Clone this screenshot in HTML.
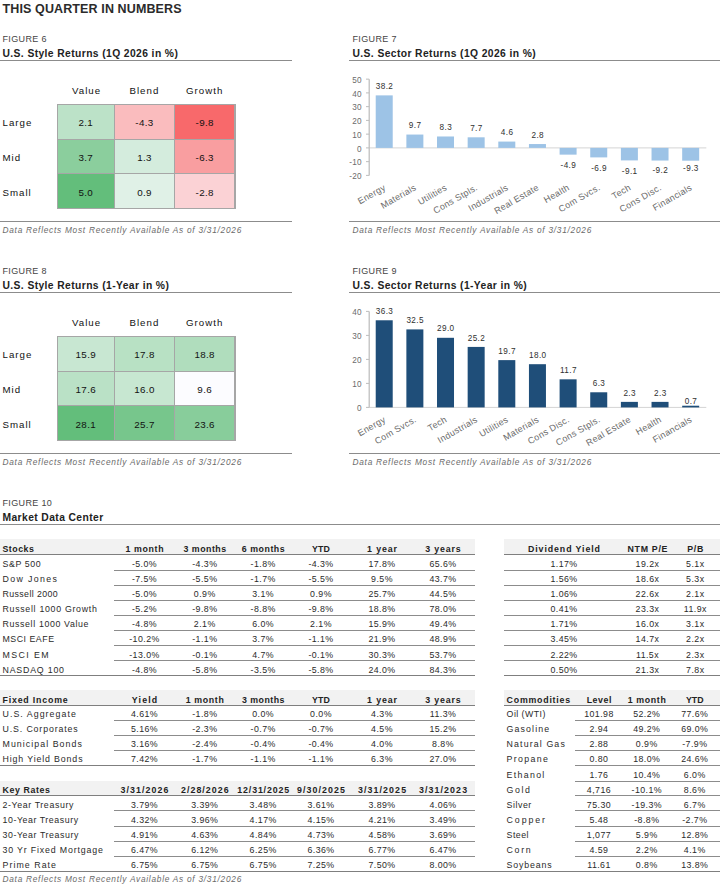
<!DOCTYPE html>
<html lang="en"><head><meta charset="utf-8"><title>This Quarter in Numbers</title>
<style>
html,body{margin:0;padding:0;background:#fff}
body{width:720px;height:887px;position:relative;overflow:hidden;font-family:"Liberation Sans",sans-serif;color:#222}
.t{position:absolute;white-space:nowrap;line-height:14px;height:14px}
.hl{position:absolute}
.h1{font-size:12.5px;font-weight:bold;color:#2b2b2b;letter-spacing:0.12px}
.fig{font-size:9px;color:#444;letter-spacing:0.35px}
.ttl{font-size:10.3px;font-weight:bold;color:#222;letter-spacing:0.4px}
.cg{font-size:9.7px;color:#111;letter-spacing:1.0px}
.cv{font-size:9.8px;color:#111;letter-spacing:0.35px}
.foot{font-size:8.3px;font-style:italic;color:#6a6a6a;letter-spacing:0.74px}
.td{font-size:8.8px;color:#2a2a2a;letter-spacing:0.6px}
.tn{font-size:8.8px;color:#2a2a2a;letter-spacing:0.45px}
.th{font-size:8.8px;font-weight:bold;color:#222;letter-spacing:0.5px}
.ax{font-size:8.2px;fill:#6b6b6b;letter-spacing:0.3px}
.dl{font-size:8.2px;fill:#303030;letter-spacing:0.4px}
svg{position:absolute;left:0;top:0}
svg text{font-family:"Liberation Sans",sans-serif}
</style></head><body>
<div class="t h1" style="left:2.50px;top:1.67px">THIS QUARTER IN NUMBERS</div>
<div class="t fig" style="left:2.50px;top:31.58px">FIGURE 6</div>
<div class="t ttl" style="left:2.50px;top:46.53px">U.S. Style Returns (1Q 2026 in %)</div>
<div class="hl" style="left:0.00px;width:292.00px;top:60.20px;height:1px;background:#8c8c8c"></div>
<div class="t cg" style="left:46.60px;width:80px;text-align:center;top:83.84px">Value</div>
<div class="t cg" style="left:104.40px;width:80px;text-align:center;top:83.84px">Blend</div>
<div class="t cg" style="left:164.70px;width:80px;text-align:center;top:83.84px">Growth</div>
<div class="t cg" style="left:2.50px;top:116.14px">Large</div>
<div class="t cg" style="left:2.50px;top:150.94px">Mid</div>
<div class="t cg" style="left:2.50px;top:185.74px">Small</div>
<div class="hl" style="left:56.50px;width:179.00px;top:103.50px;height:105.60px;background:#a6a6a6"></div>
<div class="hl" style="left:57.50px;width:56.60px;top:104.50px;height:34.00px;background:#bce2c8"></div>
<div class="t cv" style="left:45.80px;width:80px;text-align:center;top:116.10px">2.1</div>
<div class="hl" style="left:115.10px;width:58.80px;top:104.50px;height:34.00px;background:#fabcbe"></div>
<div class="t cv" style="left:104.50px;width:80px;text-align:center;top:116.10px">-4.3</div>
<div class="hl" style="left:174.90px;width:59.60px;top:104.50px;height:34.00px;background:#f8696b"></div>
<div class="t cv" style="left:164.70px;width:80px;text-align:center;top:116.10px">-9.8</div>
<div class="hl" style="left:57.50px;width:56.60px;top:139.50px;height:33.60px;background:#8bce9d"></div>
<div class="t cv" style="left:45.80px;width:80px;text-align:center;top:150.90px">3.7</div>
<div class="hl" style="left:115.10px;width:58.80px;top:139.50px;height:33.60px;background:#d4ecdd"></div>
<div class="t cv" style="left:104.50px;width:80px;text-align:center;top:150.90px">1.3</div>
<div class="hl" style="left:174.90px;width:59.60px;top:139.50px;height:33.60px;background:#f99ea0"></div>
<div class="t cv" style="left:164.70px;width:80px;text-align:center;top:150.90px">-6.3</div>
<div class="hl" style="left:57.50px;width:56.60px;top:174.10px;height:34.00px;background:#63be7b"></div>
<div class="t cv" style="left:45.80px;width:80px;text-align:center;top:185.70px">5.0</div>
<div class="hl" style="left:115.10px;width:58.80px;top:174.10px;height:34.00px;background:#e0f1e7"></div>
<div class="t cv" style="left:104.50px;width:80px;text-align:center;top:185.70px">0.9</div>
<div class="hl" style="left:174.90px;width:59.60px;top:174.10px;height:34.00px;background:#fbd2d5"></div>
<div class="t cv" style="left:164.70px;width:80px;text-align:center;top:185.70px">-2.8</div>
<div class="hl" style="left:0.00px;width:292.00px;top:221.20px;height:1px;background:#8c8c8c"></div>
<div class="t foot" style="left:2.50px;top:222.72px">Data Reflects Most Recently Available As of 3/31/2026</div>
<div class="t fig" style="left:2.50px;top:263.58px">FIGURE 8</div>
<div class="t ttl" style="left:2.50px;top:278.53px">U.S. Style Returns (1-Year in %)</div>
<div class="hl" style="left:0.00px;width:292.00px;top:292.20px;height:1px;background:#8c8c8c"></div>
<div class="t cg" style="left:46.60px;width:80px;text-align:center;top:315.84px">Value</div>
<div class="t cg" style="left:104.40px;width:80px;text-align:center;top:315.84px">Blend</div>
<div class="t cg" style="left:164.70px;width:80px;text-align:center;top:315.84px">Growth</div>
<div class="t cg" style="left:2.50px;top:348.14px">Large</div>
<div class="t cg" style="left:2.50px;top:382.94px">Mid</div>
<div class="t cg" style="left:2.50px;top:417.74px">Small</div>
<div class="hl" style="left:56.50px;width:179.00px;top:335.50px;height:105.60px;background:#a6a6a6"></div>
<div class="hl" style="left:57.50px;width:56.60px;top:336.50px;height:34.00px;background:#c8e7d2"></div>
<div class="t cv" style="left:45.80px;width:80px;text-align:center;top:348.10px">15.9</div>
<div class="hl" style="left:115.10px;width:58.80px;top:336.50px;height:34.00px;background:#b8e1c4"></div>
<div class="t cv" style="left:104.50px;width:80px;text-align:center;top:348.10px">17.8</div>
<div class="hl" style="left:174.90px;width:59.60px;top:336.50px;height:34.00px;background:#b0ddbd"></div>
<div class="t cv" style="left:164.70px;width:80px;text-align:center;top:348.10px">18.8</div>
<div class="hl" style="left:57.50px;width:56.60px;top:371.50px;height:33.60px;background:#bae1c6"></div>
<div class="t cv" style="left:45.80px;width:80px;text-align:center;top:382.90px">17.6</div>
<div class="hl" style="left:115.10px;width:58.80px;top:371.50px;height:33.60px;background:#c7e7d1"></div>
<div class="t cv" style="left:104.50px;width:80px;text-align:center;top:382.90px">16.0</div>
<div class="hl" style="left:174.90px;width:59.60px;top:371.50px;height:33.60px;background:#fcfcff"></div>
<div class="t cv" style="left:164.70px;width:80px;text-align:center;top:382.90px">9.6</div>
<div class="hl" style="left:57.50px;width:56.60px;top:406.10px;height:34.00px;background:#63be7b"></div>
<div class="t cv" style="left:45.80px;width:80px;text-align:center;top:417.70px">28.1</div>
<div class="hl" style="left:115.10px;width:58.80px;top:406.10px;height:34.00px;background:#77c68c"></div>
<div class="t cv" style="left:104.50px;width:80px;text-align:center;top:417.70px">25.7</div>
<div class="hl" style="left:174.90px;width:59.60px;top:406.10px;height:34.00px;background:#88cd9b"></div>
<div class="t cv" style="left:164.70px;width:80px;text-align:center;top:417.70px">23.6</div>
<div class="hl" style="left:0.00px;width:292.00px;top:453.20px;height:1px;background:#8c8c8c"></div>
<div class="t foot" style="left:2.50px;top:454.72px">Data Reflects Most Recently Available As of 3/31/2026</div>
<div class="t fig" style="left:352.50px;top:31.58px">FIGURE 7</div>
<div class="t ttl" style="left:352.50px;top:46.53px">U.S. Sector Returns (1Q 2026 in %)</div>
<div class="hl" style="left:349.00px;width:371.00px;top:60.20px;height:1px;background:#8c8c8c"></div>
<div class="hl" style="left:349.00px;width:371.00px;top:221.20px;height:1px;background:#8c8c8c"></div>
<div class="t foot" style="left:352.50px;top:222.72px">Data Reflects Most Recently Available As of 3/31/2026</div>
<div class="t fig" style="left:352.50px;top:263.58px">FIGURE 9</div>
<div class="t ttl" style="left:352.50px;top:278.53px">U.S. Sector Returns (1-Year in %)</div>
<div class="hl" style="left:349.00px;width:371.00px;top:292.20px;height:1px;background:#8c8c8c"></div>
<div class="hl" style="left:349.00px;width:371.00px;top:453.20px;height:1px;background:#8c8c8c"></div>
<div class="t foot" style="left:352.50px;top:454.72px">Data Reflects Most Recently Available As of 3/31/2026</div>
<svg width="720" height="887" viewBox="0 0 720 887">
<line x1="369.2" x2="706.3" y1="147.9" y2="147.9" stroke="#d4d4d4" stroke-width="1"/>
<line x1="369.2" x2="369.2" y1="79.15" y2="175.4" stroke="#bdbdbd" stroke-width="1.25"/>
<line x1="366.0" x2="369.2" y1="175.40" y2="175.40" stroke="#bdbdbd" stroke-width="1"/>
<text class="ax" x="361.9" y="179.00" text-anchor="end">-20</text>
<line x1="366.0" x2="369.2" y1="161.65" y2="161.65" stroke="#bdbdbd" stroke-width="1"/>
<text class="ax" x="361.9" y="165.25" text-anchor="end">-10</text>
<line x1="366.0" x2="369.2" y1="147.90" y2="147.90" stroke="#bdbdbd" stroke-width="1"/>
<text class="ax" x="361.9" y="151.50" text-anchor="end">0</text>
<line x1="366.0" x2="369.2" y1="134.15" y2="134.15" stroke="#bdbdbd" stroke-width="1"/>
<text class="ax" x="361.9" y="137.75" text-anchor="end">10</text>
<line x1="366.0" x2="369.2" y1="120.40" y2="120.40" stroke="#bdbdbd" stroke-width="1"/>
<text class="ax" x="361.9" y="124.00" text-anchor="end">20</text>
<line x1="366.0" x2="369.2" y1="106.65" y2="106.65" stroke="#bdbdbd" stroke-width="1"/>
<text class="ax" x="361.9" y="110.25" text-anchor="end">30</text>
<line x1="366.0" x2="369.2" y1="92.90" y2="92.90" stroke="#bdbdbd" stroke-width="1"/>
<text class="ax" x="361.9" y="96.50" text-anchor="end">40</text>
<line x1="366.0" x2="369.2" y1="79.15" y2="79.15" stroke="#bdbdbd" stroke-width="1"/>
<text class="ax" x="361.9" y="82.75" text-anchor="end">50</text>
<rect x="375.72" y="95.38" width="17" height="52.53" fill="#9dc3e6"/>
<text class="dl" x="384.52" y="88.97" text-anchor="middle">38.2</text>
<text class="ax" style="font-size:9px" transform="translate(386.32,189.30) rotate(-30)" text-anchor="end">Energy</text>
<rect x="406.37" y="134.56" width="17" height="13.34" fill="#9dc3e6"/>
<text class="dl" x="415.17" y="128.16" text-anchor="middle">9.7</text>
<text class="ax" style="font-size:9px" transform="translate(416.97,189.30) rotate(-30)" text-anchor="end">Materials</text>
<rect x="437.01" y="136.49" width="17" height="11.41" fill="#9dc3e6"/>
<text class="dl" x="445.81" y="130.09" text-anchor="middle">8.3</text>
<text class="ax" style="font-size:9px" transform="translate(447.61,189.30) rotate(-30)" text-anchor="end">Utilities</text>
<rect x="467.66" y="137.31" width="17" height="10.59" fill="#9dc3e6"/>
<text class="dl" x="476.46" y="130.91" text-anchor="middle">7.7</text>
<text class="ax" style="font-size:9px" transform="translate(478.26,189.30) rotate(-30)" text-anchor="end">Cons Stpls.</text>
<rect x="498.30" y="141.58" width="17" height="6.32" fill="#9dc3e6"/>
<text class="dl" x="507.10" y="135.18" text-anchor="middle">4.6</text>
<text class="ax" style="font-size:9px" transform="translate(508.90,189.30) rotate(-30)" text-anchor="end">Industrials</text>
<rect x="528.95" y="144.05" width="17" height="3.85" fill="#9dc3e6"/>
<text class="dl" x="537.75" y="137.65" text-anchor="middle">2.8</text>
<text class="ax" style="font-size:9px" transform="translate(539.55,189.30) rotate(-30)" text-anchor="end">Real Estate</text>
<rect x="559.60" y="147.90" width="17" height="6.74" fill="#9dc3e6"/>
<text class="dl" x="568.40" y="168.30" text-anchor="middle">-4.9</text>
<text class="ax" style="font-size:9px" transform="translate(570.20,189.30) rotate(-30)" text-anchor="end">Health</text>
<rect x="590.24" y="147.90" width="17" height="9.49" fill="#9dc3e6"/>
<text class="dl" x="599.04" y="171.10" text-anchor="middle">-6.9</text>
<text class="ax" style="font-size:9px" transform="translate(600.84,189.30) rotate(-30)" text-anchor="end">Com Svcs.</text>
<rect x="620.89" y="147.90" width="17" height="12.51" fill="#9dc3e6"/>
<text class="dl" x="629.69" y="173.50" text-anchor="middle">-9.1</text>
<text class="ax" style="font-size:9px" transform="translate(631.49,189.30) rotate(-30)" text-anchor="end">Tech</text>
<rect x="651.53" y="147.90" width="17" height="12.65" fill="#9dc3e6"/>
<text class="dl" x="660.33" y="173.00" text-anchor="middle">-9.2</text>
<text class="ax" style="font-size:9px" transform="translate(662.13,189.30) rotate(-30)" text-anchor="end">Cons Disc.</text>
<rect x="682.18" y="147.90" width="17" height="12.79" fill="#9dc3e6"/>
<text class="dl" x="690.98" y="171.10" text-anchor="middle">-9.3</text>
<text class="ax" style="font-size:9px" transform="translate(692.78,189.30) rotate(-30)" text-anchor="end">Financials</text>
<line x1="369.2" x2="706.3" y1="407.4" y2="407.4" stroke="#d4d4d4" stroke-width="1"/>
<line x1="369.2" x2="369.2" y1="311.4" y2="407.4" stroke="#bdbdbd" stroke-width="1.25"/>
<line x1="366.0" x2="369.2" y1="407.40" y2="407.40" stroke="#bdbdbd" stroke-width="1"/>
<text class="ax" x="361.9" y="411.00" text-anchor="end">0</text>
<line x1="366.0" x2="369.2" y1="383.40" y2="383.40" stroke="#bdbdbd" stroke-width="1"/>
<text class="ax" x="361.9" y="387.00" text-anchor="end">10</text>
<line x1="366.0" x2="369.2" y1="359.40" y2="359.40" stroke="#bdbdbd" stroke-width="1"/>
<text class="ax" x="361.9" y="363.00" text-anchor="end">20</text>
<line x1="366.0" x2="369.2" y1="335.40" y2="335.40" stroke="#bdbdbd" stroke-width="1"/>
<text class="ax" x="361.9" y="339.00" text-anchor="end">30</text>
<line x1="366.0" x2="369.2" y1="311.40" y2="311.40" stroke="#bdbdbd" stroke-width="1"/>
<text class="ax" x="361.9" y="315.00" text-anchor="end">40</text>
<rect x="375.72" y="320.28" width="17" height="87.12" fill="#1f4e79"/>
<text class="dl" x="384.52" y="313.88" text-anchor="middle">36.3</text>
<text class="ax" style="font-size:9px" transform="translate(386.32,421.30) rotate(-30)" text-anchor="end">Energy</text>
<rect x="406.37" y="329.40" width="17" height="78.00" fill="#1f4e79"/>
<text class="dl" x="415.17" y="323.00" text-anchor="middle">32.5</text>
<text class="ax" style="font-size:9px" transform="translate(416.97,421.30) rotate(-30)" text-anchor="end">Com Svcs.</text>
<rect x="437.01" y="337.80" width="17" height="69.60" fill="#1f4e79"/>
<text class="dl" x="445.81" y="331.40" text-anchor="middle">29.0</text>
<text class="ax" style="font-size:9px" transform="translate(447.61,421.30) rotate(-30)" text-anchor="end">Tech</text>
<rect x="467.66" y="346.92" width="17" height="60.48" fill="#1f4e79"/>
<text class="dl" x="476.46" y="340.52" text-anchor="middle">25.2</text>
<text class="ax" style="font-size:9px" transform="translate(478.26,421.30) rotate(-30)" text-anchor="end">Industrials</text>
<rect x="498.30" y="360.12" width="17" height="47.28" fill="#1f4e79"/>
<text class="dl" x="507.10" y="353.72" text-anchor="middle">19.7</text>
<text class="ax" style="font-size:9px" transform="translate(508.90,421.30) rotate(-30)" text-anchor="end">Utilities</text>
<rect x="528.95" y="364.20" width="17" height="43.20" fill="#1f4e79"/>
<text class="dl" x="537.75" y="357.80" text-anchor="middle">18.0</text>
<text class="ax" style="font-size:9px" transform="translate(539.55,421.30) rotate(-30)" text-anchor="end">Materials</text>
<rect x="559.60" y="379.32" width="17" height="28.08" fill="#1f4e79"/>
<text class="dl" x="568.40" y="372.92" text-anchor="middle">11.7</text>
<text class="ax" style="font-size:9px" transform="translate(570.20,421.30) rotate(-30)" text-anchor="end">Cons Disc.</text>
<rect x="590.24" y="392.28" width="17" height="15.12" fill="#1f4e79"/>
<text class="dl" x="599.04" y="385.88" text-anchor="middle">6.3</text>
<text class="ax" style="font-size:9px" transform="translate(600.84,421.30) rotate(-30)" text-anchor="end">Cons Stpls.</text>
<rect x="620.89" y="401.88" width="17" height="5.52" fill="#1f4e79"/>
<text class="dl" x="629.69" y="396.28" text-anchor="middle">2.3</text>
<text class="ax" style="font-size:9px" transform="translate(631.49,421.30) rotate(-30)" text-anchor="end">Real Estate</text>
<rect x="651.53" y="401.88" width="17" height="5.52" fill="#1f4e79"/>
<text class="dl" x="660.33" y="396.28" text-anchor="middle">2.3</text>
<text class="ax" style="font-size:9px" transform="translate(662.13,421.30) rotate(-30)" text-anchor="end">Health</text>
<rect x="682.18" y="405.72" width="17" height="1.68" fill="#1f4e79"/>
<text class="dl" x="690.98" y="404.00" text-anchor="middle">0.7</text>
<text class="ax" style="font-size:9px" transform="translate(692.78,421.30) rotate(-30)" text-anchor="end">Financials</text>
</svg>
<div class="t fig" style="left:2.50px;top:495.58px">FIGURE 10</div>
<div class="t ttl" style="left:2.50px;top:510.53px">Market Data Center</div>
<div class="hl" style="left:0.00px;width:720.00px;top:524.20px;height:1px;background:#8c8c8c"></div>
<div class="hl" style="left:0.00px;width:474.60px;top:539.40px;height:14.90px;background:#f2f2f2"></div>
<div class="hl" style="left:0.00px;width:474.60px;top:553.80px;height:1px;background:#7f7f7f"></div>
<div class="t th" style="left:2.50px;top:542.05px;letter-spacing:0.490px">Stocks</div>
<div class="t th" style="left:104.82px;width:80px;text-align:center;top:542.05px;letter-spacing:0.649px">1 month</div>
<div class="t th" style="left:165.05px;width:80px;text-align:center;top:542.05px;letter-spacing:0.500px">3 months</div>
<div class="t th" style="left:223.48px;width:80px;text-align:center;top:542.05px;letter-spacing:0.557px">6 months</div>
<div class="t th" style="left:281.05px;width:80px;text-align:center;top:542.05px;letter-spacing:0.103px">YTD</div>
<div class="t th" style="left:342.44px;width:80px;text-align:center;top:542.05px;letter-spacing:0.873px">1 year</div>
<div class="t th" style="left:403.41px;width:80px;text-align:center;top:542.05px;letter-spacing:0.828px">3 years</div>
<div class="t td" style="left:2.50px;top:557.25px;letter-spacing:0.579px">S&amp;P 500</div>
<div class="t tn" style="left:104.50px;width:80px;text-align:center;top:557.25px">-5.0%</div>
<div class="t tn" style="left:164.80px;width:80px;text-align:center;top:557.25px">-4.3%</div>
<div class="t tn" style="left:223.20px;width:80px;text-align:center;top:557.25px">-1.8%</div>
<div class="t tn" style="left:281.00px;width:80px;text-align:center;top:557.25px">-4.3%</div>
<div class="t tn" style="left:342.00px;width:80px;text-align:center;top:557.25px">17.8%</div>
<div class="t tn" style="left:403.00px;width:80px;text-align:center;top:557.25px">65.6%</div>
<div class="hl" style="left:114.00px;width:360.60px;top:569.80px;height:1px;background:#8c8c8c"></div>
<div class="t td" style="left:2.50px;top:572.35px;letter-spacing:1.348px">Dow Jones</div>
<div class="t tn" style="left:104.50px;width:80px;text-align:center;top:572.35px">-7.5%</div>
<div class="t tn" style="left:164.80px;width:80px;text-align:center;top:572.35px">-5.5%</div>
<div class="t tn" style="left:223.20px;width:80px;text-align:center;top:572.35px">-1.7%</div>
<div class="t tn" style="left:281.00px;width:80px;text-align:center;top:572.35px">-5.5%</div>
<div class="t tn" style="left:342.00px;width:80px;text-align:center;top:572.35px">9.5%</div>
<div class="t tn" style="left:403.00px;width:80px;text-align:center;top:572.35px">43.7%</div>
<div class="hl" style="left:114.00px;width:360.60px;top:584.90px;height:1px;background:#8c8c8c"></div>
<div class="t td" style="left:2.50px;top:587.35px;letter-spacing:0.395px">Russell 2000</div>
<div class="t tn" style="left:104.50px;width:80px;text-align:center;top:587.35px">-5.0%</div>
<div class="t tn" style="left:164.80px;width:80px;text-align:center;top:587.35px">0.9%</div>
<div class="t tn" style="left:223.20px;width:80px;text-align:center;top:587.35px">3.1%</div>
<div class="t tn" style="left:281.00px;width:80px;text-align:center;top:587.35px">0.9%</div>
<div class="t tn" style="left:342.00px;width:80px;text-align:center;top:587.35px">25.7%</div>
<div class="t tn" style="left:403.00px;width:80px;text-align:center;top:587.35px">44.5%</div>
<div class="hl" style="left:114.00px;width:360.60px;top:599.90px;height:1px;background:#8c8c8c"></div>
<div class="t td" style="left:2.50px;top:602.25px;letter-spacing:0.703px">Russell 1000 Growth</div>
<div class="t tn" style="left:104.50px;width:80px;text-align:center;top:602.25px">-5.2%</div>
<div class="t tn" style="left:164.80px;width:80px;text-align:center;top:602.25px">-9.8%</div>
<div class="t tn" style="left:223.20px;width:80px;text-align:center;top:602.25px">-8.8%</div>
<div class="t tn" style="left:281.00px;width:80px;text-align:center;top:602.25px">-9.8%</div>
<div class="t tn" style="left:342.00px;width:80px;text-align:center;top:602.25px">18.8%</div>
<div class="t tn" style="left:403.00px;width:80px;text-align:center;top:602.25px">78.0%</div>
<div class="hl" style="left:114.00px;width:360.60px;top:614.80px;height:1px;background:#8c8c8c"></div>
<div class="t td" style="left:2.50px;top:617.25px;letter-spacing:0.638px">Russell 1000 Value</div>
<div class="t tn" style="left:104.50px;width:80px;text-align:center;top:617.25px">-4.8%</div>
<div class="t tn" style="left:164.80px;width:80px;text-align:center;top:617.25px">2.1%</div>
<div class="t tn" style="left:223.20px;width:80px;text-align:center;top:617.25px">6.0%</div>
<div class="t tn" style="left:281.00px;width:80px;text-align:center;top:617.25px">2.1%</div>
<div class="t tn" style="left:342.00px;width:80px;text-align:center;top:617.25px">15.9%</div>
<div class="t tn" style="left:403.00px;width:80px;text-align:center;top:617.25px">49.4%</div>
<div class="hl" style="left:114.00px;width:360.60px;top:629.80px;height:1px;background:#8c8c8c"></div>
<div class="t td" style="left:2.50px;top:632.45px;letter-spacing:0.511px">MSCI EAFE</div>
<div class="t tn" style="left:104.50px;width:80px;text-align:center;top:632.45px">-10.2%</div>
<div class="t tn" style="left:164.80px;width:80px;text-align:center;top:632.45px">-1.1%</div>
<div class="t tn" style="left:223.20px;width:80px;text-align:center;top:632.45px">3.7%</div>
<div class="t tn" style="left:281.00px;width:80px;text-align:center;top:632.45px">-1.1%</div>
<div class="t tn" style="left:342.00px;width:80px;text-align:center;top:632.45px">21.9%</div>
<div class="t tn" style="left:403.00px;width:80px;text-align:center;top:632.45px">48.9%</div>
<div class="hl" style="left:114.00px;width:360.60px;top:645.00px;height:1px;background:#8c8c8c"></div>
<div class="t td" style="left:2.50px;top:647.55px;letter-spacing:1.395px">MSCI EM</div>
<div class="t tn" style="left:104.50px;width:80px;text-align:center;top:647.55px">-13.0%</div>
<div class="t tn" style="left:164.80px;width:80px;text-align:center;top:647.55px">-0.1%</div>
<div class="t tn" style="left:223.20px;width:80px;text-align:center;top:647.55px">4.7%</div>
<div class="t tn" style="left:281.00px;width:80px;text-align:center;top:647.55px">-0.1%</div>
<div class="t tn" style="left:342.00px;width:80px;text-align:center;top:647.55px">30.3%</div>
<div class="t tn" style="left:403.00px;width:80px;text-align:center;top:647.55px">53.7%</div>
<div class="hl" style="left:114.00px;width:360.60px;top:660.10px;height:1px;background:#8c8c8c"></div>
<div class="t td" style="left:2.50px;top:662.55px;letter-spacing:0.803px">NASDAQ 100</div>
<div class="t tn" style="left:104.50px;width:80px;text-align:center;top:662.55px">-4.8%</div>
<div class="t tn" style="left:164.80px;width:80px;text-align:center;top:662.55px">-5.8%</div>
<div class="t tn" style="left:223.20px;width:80px;text-align:center;top:662.55px">-3.5%</div>
<div class="t tn" style="left:281.00px;width:80px;text-align:center;top:662.55px">-5.8%</div>
<div class="t tn" style="left:342.00px;width:80px;text-align:center;top:662.55px">24.0%</div>
<div class="t tn" style="left:403.00px;width:80px;text-align:center;top:662.55px">84.3%</div>
<div class="hl" style="left:0.00px;width:474.60px;top:675.10px;height:1px;background:#7f7f7f"></div>
<div class="hl" style="left:504.00px;width:216.00px;top:539.40px;height:14.90px;background:#f2f2f2"></div>
<div class="hl" style="left:504.00px;width:216.00px;top:553.80px;height:1px;background:#7f7f7f"></div>
<div class="t th" style="left:506.60px;top:542.05px"></div>
<div class="t th" style="left:524.45px;width:80px;text-align:center;top:542.05px;letter-spacing:0.909px">Dividend Yield</div>
<div class="t th" style="left:607.84px;width:80px;text-align:center;top:542.05px;letter-spacing:0.687px">NTM P/E</div>
<div class="t th" style="left:655.61px;width:80px;text-align:center;top:542.05px;letter-spacing:0.618px">P/B</div>
<div class="t td" style="left:506.60px;top:557.25px"></div>
<div class="t tn" style="left:524.00px;width:80px;text-align:center;top:557.25px">1.17%</div>
<div class="t tn" style="left:607.50px;width:80px;text-align:center;top:557.25px">19.2x</div>
<div class="t tn" style="left:655.30px;width:80px;text-align:center;top:557.25px">5.1x</div>
<div class="hl" style="left:504.00px;width:216.00px;top:569.80px;height:1px;background:#8c8c8c"></div>
<div class="t td" style="left:506.60px;top:572.35px"></div>
<div class="t tn" style="left:524.00px;width:80px;text-align:center;top:572.35px">1.56%</div>
<div class="t tn" style="left:607.50px;width:80px;text-align:center;top:572.35px">18.6x</div>
<div class="t tn" style="left:655.30px;width:80px;text-align:center;top:572.35px">5.3x</div>
<div class="hl" style="left:504.00px;width:216.00px;top:584.90px;height:1px;background:#8c8c8c"></div>
<div class="t td" style="left:506.60px;top:587.35px"></div>
<div class="t tn" style="left:524.00px;width:80px;text-align:center;top:587.35px">1.06%</div>
<div class="t tn" style="left:607.50px;width:80px;text-align:center;top:587.35px">22.6x</div>
<div class="t tn" style="left:655.30px;width:80px;text-align:center;top:587.35px">2.1x</div>
<div class="hl" style="left:504.00px;width:216.00px;top:599.90px;height:1px;background:#8c8c8c"></div>
<div class="t td" style="left:506.60px;top:602.25px"></div>
<div class="t tn" style="left:524.00px;width:80px;text-align:center;top:602.25px">0.41%</div>
<div class="t tn" style="left:607.50px;width:80px;text-align:center;top:602.25px">23.3x</div>
<div class="t tn" style="left:655.30px;width:80px;text-align:center;top:602.25px">11.9x</div>
<div class="hl" style="left:504.00px;width:216.00px;top:614.80px;height:1px;background:#8c8c8c"></div>
<div class="t td" style="left:506.60px;top:617.25px"></div>
<div class="t tn" style="left:524.00px;width:80px;text-align:center;top:617.25px">1.71%</div>
<div class="t tn" style="left:607.50px;width:80px;text-align:center;top:617.25px">16.0x</div>
<div class="t tn" style="left:655.30px;width:80px;text-align:center;top:617.25px">3.1x</div>
<div class="hl" style="left:504.00px;width:216.00px;top:629.80px;height:1px;background:#8c8c8c"></div>
<div class="t td" style="left:506.60px;top:632.45px"></div>
<div class="t tn" style="left:524.00px;width:80px;text-align:center;top:632.45px">3.45%</div>
<div class="t tn" style="left:607.50px;width:80px;text-align:center;top:632.45px">14.7x</div>
<div class="t tn" style="left:655.30px;width:80px;text-align:center;top:632.45px">2.2x</div>
<div class="hl" style="left:504.00px;width:216.00px;top:645.00px;height:1px;background:#8c8c8c"></div>
<div class="t td" style="left:506.60px;top:647.55px"></div>
<div class="t tn" style="left:524.00px;width:80px;text-align:center;top:647.55px">2.22%</div>
<div class="t tn" style="left:607.50px;width:80px;text-align:center;top:647.55px">11.5x</div>
<div class="t tn" style="left:655.30px;width:80px;text-align:center;top:647.55px">2.3x</div>
<div class="hl" style="left:504.00px;width:216.00px;top:660.10px;height:1px;background:#8c8c8c"></div>
<div class="t td" style="left:506.60px;top:662.55px"></div>
<div class="t tn" style="left:524.00px;width:80px;text-align:center;top:662.55px">0.50%</div>
<div class="t tn" style="left:607.50px;width:80px;text-align:center;top:662.55px">21.3x</div>
<div class="t tn" style="left:655.30px;width:80px;text-align:center;top:662.55px">7.8x</div>
<div class="hl" style="left:504.00px;width:216.00px;top:675.10px;height:1px;background:#7f7f7f"></div>
<div class="hl" style="left:0.00px;width:474.60px;top:690.10px;height:15.30px;background:#f2f2f2"></div>
<div class="hl" style="left:0.00px;width:474.60px;top:704.90px;height:1px;background:#7f7f7f"></div>
<div class="t th" style="left:2.50px;top:693.15px;letter-spacing:0.817px">Fixed Income</div>
<div class="t th" style="left:105.08px;width:80px;text-align:center;top:693.15px;letter-spacing:1.151px">Yield</div>
<div class="t th" style="left:165.12px;width:80px;text-align:center;top:693.15px;letter-spacing:0.649px">1 month</div>
<div class="t th" style="left:223.45px;width:80px;text-align:center;top:693.15px;letter-spacing:0.500px">3 months</div>
<div class="t th" style="left:281.05px;width:80px;text-align:center;top:693.15px;letter-spacing:0.103px">YTD</div>
<div class="t th" style="left:342.44px;width:80px;text-align:center;top:693.15px;letter-spacing:0.873px">1 year</div>
<div class="t th" style="left:403.41px;width:80px;text-align:center;top:693.15px;letter-spacing:0.828px">3 years</div>
<div class="t td" style="left:2.50px;top:707.35px;letter-spacing:1.050px">U.S. Aggregate</div>
<div class="t tn" style="left:104.50px;width:80px;text-align:center;top:707.35px">4.61%</div>
<div class="t tn" style="left:164.80px;width:80px;text-align:center;top:707.35px">-1.8%</div>
<div class="t tn" style="left:223.20px;width:80px;text-align:center;top:707.35px">0.0%</div>
<div class="t tn" style="left:281.00px;width:80px;text-align:center;top:707.35px">0.0%</div>
<div class="t tn" style="left:342.00px;width:80px;text-align:center;top:707.35px">4.3%</div>
<div class="t tn" style="left:403.00px;width:80px;text-align:center;top:707.35px">11.3%</div>
<div class="hl" style="left:114.00px;width:360.60px;top:719.90px;height:1px;background:#8c8c8c"></div>
<div class="t td" style="left:2.50px;top:722.35px;letter-spacing:0.867px">U.S. Corporates</div>
<div class="t tn" style="left:104.50px;width:80px;text-align:center;top:722.35px">5.16%</div>
<div class="t tn" style="left:164.80px;width:80px;text-align:center;top:722.35px">-2.3%</div>
<div class="t tn" style="left:223.20px;width:80px;text-align:center;top:722.35px">-0.7%</div>
<div class="t tn" style="left:281.00px;width:80px;text-align:center;top:722.35px">-0.7%</div>
<div class="t tn" style="left:342.00px;width:80px;text-align:center;top:722.35px">4.5%</div>
<div class="t tn" style="left:403.00px;width:80px;text-align:center;top:722.35px">15.2%</div>
<div class="hl" style="left:114.00px;width:360.60px;top:734.90px;height:1px;background:#8c8c8c"></div>
<div class="t td" style="left:2.50px;top:737.25px;letter-spacing:1.054px">Municipal Bonds</div>
<div class="t tn" style="left:104.50px;width:80px;text-align:center;top:737.25px">3.16%</div>
<div class="t tn" style="left:164.80px;width:80px;text-align:center;top:737.25px">-2.4%</div>
<div class="t tn" style="left:223.20px;width:80px;text-align:center;top:737.25px">-0.4%</div>
<div class="t tn" style="left:281.00px;width:80px;text-align:center;top:737.25px">-0.4%</div>
<div class="t tn" style="left:342.00px;width:80px;text-align:center;top:737.25px">4.0%</div>
<div class="t tn" style="left:403.00px;width:80px;text-align:center;top:737.25px">8.8%</div>
<div class="hl" style="left:114.00px;width:360.60px;top:749.80px;height:1px;background:#8c8c8c"></div>
<div class="t td" style="left:2.50px;top:752.35px;letter-spacing:0.869px">High Yield Bonds</div>
<div class="t tn" style="left:104.50px;width:80px;text-align:center;top:752.35px">7.42%</div>
<div class="t tn" style="left:164.80px;width:80px;text-align:center;top:752.35px">-1.7%</div>
<div class="t tn" style="left:223.20px;width:80px;text-align:center;top:752.35px">-1.1%</div>
<div class="t tn" style="left:281.00px;width:80px;text-align:center;top:752.35px">-1.1%</div>
<div class="t tn" style="left:342.00px;width:80px;text-align:center;top:752.35px">6.3%</div>
<div class="t tn" style="left:403.00px;width:80px;text-align:center;top:752.35px">27.0%</div>
<div class="hl" style="left:0.00px;width:474.60px;top:764.90px;height:1px;background:#7f7f7f"></div>
<div class="hl" style="left:0.00px;width:474.60px;top:781.00px;height:14.70px;background:#f2f2f2"></div>
<div class="hl" style="left:0.00px;width:474.60px;top:795.20px;height:1px;background:#7f7f7f"></div>
<div class="t th" style="left:2.50px;top:783.45px;letter-spacing:0.595px">Key Rates</div>
<div class="t th" style="left:105.05px;width:80px;text-align:center;top:783.45px;letter-spacing:1.108px">3/31/2026</div>
<div class="t th" style="left:165.33px;width:80px;text-align:center;top:783.45px;letter-spacing:1.058px">2/28/2026</div>
<div class="t th" style="left:223.63px;width:80px;text-align:center;top:783.45px;letter-spacing:0.853px">12/31/2025</div>
<div class="t th" style="left:281.55px;width:80px;text-align:center;top:783.45px;letter-spacing:1.108px">9/30/2025</div>
<div class="t th" style="left:342.56px;width:80px;text-align:center;top:783.45px;letter-spacing:1.121px">3/31/2025</div>
<div class="t th" style="left:403.56px;width:80px;text-align:center;top:783.45px;letter-spacing:1.121px">3/31/2023</div>
<div class="t td" style="left:2.50px;top:797.85px;letter-spacing:0.613px">2-Year Treasury</div>
<div class="t tn" style="left:104.50px;width:80px;text-align:center;top:797.85px">3.79%</div>
<div class="t tn" style="left:164.80px;width:80px;text-align:center;top:797.85px">3.39%</div>
<div class="t tn" style="left:223.20px;width:80px;text-align:center;top:797.85px">3.48%</div>
<div class="t tn" style="left:281.00px;width:80px;text-align:center;top:797.85px">3.61%</div>
<div class="t tn" style="left:342.00px;width:80px;text-align:center;top:797.85px">3.89%</div>
<div class="t tn" style="left:403.00px;width:80px;text-align:center;top:797.85px">4.06%</div>
<div class="hl" style="left:114.00px;width:360.60px;top:810.40px;height:1px;background:#8c8c8c"></div>
<div class="t td" style="left:2.50px;top:813.05px;letter-spacing:0.559px">10-Year Treasury</div>
<div class="t tn" style="left:104.50px;width:80px;text-align:center;top:813.05px">4.32%</div>
<div class="t tn" style="left:164.80px;width:80px;text-align:center;top:813.05px">3.96%</div>
<div class="t tn" style="left:223.20px;width:80px;text-align:center;top:813.05px">4.17%</div>
<div class="t tn" style="left:281.00px;width:80px;text-align:center;top:813.05px">4.15%</div>
<div class="t tn" style="left:342.00px;width:80px;text-align:center;top:813.05px">4.21%</div>
<div class="t tn" style="left:403.00px;width:80px;text-align:center;top:813.05px">3.49%</div>
<div class="hl" style="left:114.00px;width:360.60px;top:825.60px;height:1px;background:#8c8c8c"></div>
<div class="t td" style="left:2.50px;top:828.15px;letter-spacing:0.579px">30-Year Treasury</div>
<div class="t tn" style="left:104.50px;width:80px;text-align:center;top:828.15px">4.91%</div>
<div class="t tn" style="left:164.80px;width:80px;text-align:center;top:828.15px">4.63%</div>
<div class="t tn" style="left:223.20px;width:80px;text-align:center;top:828.15px">4.84%</div>
<div class="t tn" style="left:281.00px;width:80px;text-align:center;top:828.15px">4.73%</div>
<div class="t tn" style="left:342.00px;width:80px;text-align:center;top:828.15px">4.58%</div>
<div class="t tn" style="left:403.00px;width:80px;text-align:center;top:828.15px">3.69%</div>
<div class="hl" style="left:114.00px;width:360.60px;top:840.70px;height:1px;background:#8c8c8c"></div>
<div class="t td" style="left:2.50px;top:843.15px;letter-spacing:0.837px">30 Yr Fixed Mortgage</div>
<div class="t tn" style="left:104.50px;width:80px;text-align:center;top:843.15px">6.47%</div>
<div class="t tn" style="left:164.80px;width:80px;text-align:center;top:843.15px">6.12%</div>
<div class="t tn" style="left:223.20px;width:80px;text-align:center;top:843.15px">6.25%</div>
<div class="t tn" style="left:281.00px;width:80px;text-align:center;top:843.15px">6.36%</div>
<div class="t tn" style="left:342.00px;width:80px;text-align:center;top:843.15px">6.77%</div>
<div class="t tn" style="left:403.00px;width:80px;text-align:center;top:843.15px">6.47%</div>
<div class="hl" style="left:114.00px;width:360.60px;top:855.70px;height:1px;background:#8c8c8c"></div>
<div class="t td" style="left:2.50px;top:858.05px;letter-spacing:1.056px">Prime Rate</div>
<div class="t tn" style="left:104.50px;width:80px;text-align:center;top:858.05px">6.75%</div>
<div class="t tn" style="left:164.80px;width:80px;text-align:center;top:858.05px">6.75%</div>
<div class="t tn" style="left:223.20px;width:80px;text-align:center;top:858.05px">6.75%</div>
<div class="t tn" style="left:281.00px;width:80px;text-align:center;top:858.05px">7.25%</div>
<div class="t tn" style="left:342.00px;width:80px;text-align:center;top:858.05px">7.50%</div>
<div class="t tn" style="left:403.00px;width:80px;text-align:center;top:858.05px">8.00%</div>
<div class="hl" style="left:0.00px;width:720.00px;top:870.60px;height:1px;background:#7f7f7f"></div>
<div class="hl" style="left:504.00px;width:216.00px;top:690.10px;height:15.30px;background:#f2f2f2"></div>
<div class="hl" style="left:504.00px;width:216.00px;top:704.90px;height:1px;background:#7f7f7f"></div>
<div class="t th" style="left:506.60px;top:693.15px;letter-spacing:0.778px">Commodities</div>
<div class="t th" style="left:559.28px;width:80px;text-align:center;top:693.15px;letter-spacing:0.551px">Level</div>
<div class="t th" style="left:607.12px;width:80px;text-align:center;top:693.15px;letter-spacing:0.649px">1 month</div>
<div class="t th" style="left:654.85px;width:80px;text-align:center;top:693.15px;letter-spacing:0.103px">YTD</div>
<div class="t td" style="left:506.60px;top:707.35px;letter-spacing:0.453px">Oil (WTI)</div>
<div class="t tn" style="left:559.00px;width:80px;text-align:center;top:707.35px">101.98</div>
<div class="t tn" style="left:606.80px;width:80px;text-align:center;top:707.35px">52.2%</div>
<div class="t tn" style="left:654.80px;width:80px;text-align:center;top:707.35px">77.6%</div>
<div class="hl" style="left:574.70px;width:145.30px;top:719.90px;height:1px;background:#8c8c8c"></div>
<div class="t td" style="left:506.60px;top:722.35px;letter-spacing:1.126px">Gasoline</div>
<div class="t tn" style="left:559.00px;width:80px;text-align:center;top:722.35px">2.94</div>
<div class="t tn" style="left:606.80px;width:80px;text-align:center;top:722.35px">49.2%</div>
<div class="t tn" style="left:654.80px;width:80px;text-align:center;top:722.35px">69.0%</div>
<div class="hl" style="left:574.70px;width:145.30px;top:734.90px;height:1px;background:#8c8c8c"></div>
<div class="t td" style="left:506.60px;top:737.25px;letter-spacing:1.126px">Natural Gas</div>
<div class="t tn" style="left:559.00px;width:80px;text-align:center;top:737.25px">2.88</div>
<div class="t tn" style="left:606.80px;width:80px;text-align:center;top:737.25px">0.9%</div>
<div class="t tn" style="left:654.80px;width:80px;text-align:center;top:737.25px">-7.9%</div>
<div class="hl" style="left:574.70px;width:145.30px;top:749.80px;height:1px;background:#8c8c8c"></div>
<div class="t td" style="left:506.60px;top:752.35px;letter-spacing:1.340px">Propane</div>
<div class="t tn" style="left:559.00px;width:80px;text-align:center;top:752.35px">0.80</div>
<div class="t tn" style="left:606.80px;width:80px;text-align:center;top:752.35px">18.0%</div>
<div class="t tn" style="left:654.80px;width:80px;text-align:center;top:752.35px">24.6%</div>
<div class="hl" style="left:574.70px;width:145.30px;top:764.90px;height:1px;background:#8c8c8c"></div>
<div class="t td" style="left:506.60px;top:767.95px;letter-spacing:1.311px">Ethanol</div>
<div class="t tn" style="left:559.00px;width:80px;text-align:center;top:767.95px">1.76</div>
<div class="t tn" style="left:606.80px;width:80px;text-align:center;top:767.95px">10.4%</div>
<div class="t tn" style="left:654.80px;width:80px;text-align:center;top:767.95px">6.0%</div>
<div class="hl" style="left:574.70px;width:145.30px;top:780.50px;height:1px;background:#8c8c8c"></div>
<div class="t td" style="left:506.60px;top:782.65px;letter-spacing:1.606px">Gold</div>
<div class="t tn" style="left:559.00px;width:80px;text-align:center;top:782.65px">4,716</div>
<div class="t tn" style="left:606.80px;width:80px;text-align:center;top:782.65px">-10.1%</div>
<div class="t tn" style="left:654.80px;width:80px;text-align:center;top:782.65px">8.6%</div>
<div class="hl" style="left:574.70px;width:145.30px;top:795.20px;height:1px;background:#8c8c8c"></div>
<div class="t td" style="left:506.60px;top:797.85px;letter-spacing:0.541px">Silver</div>
<div class="t tn" style="left:559.00px;width:80px;text-align:center;top:797.85px">75.30</div>
<div class="t tn" style="left:606.80px;width:80px;text-align:center;top:797.85px">-19.3%</div>
<div class="t tn" style="left:654.80px;width:80px;text-align:center;top:797.85px">6.7%</div>
<div class="hl" style="left:574.70px;width:145.30px;top:810.40px;height:1px;background:#8c8c8c"></div>
<div class="t td" style="left:506.60px;top:813.05px;letter-spacing:1.910px">Copper</div>
<div class="t tn" style="left:559.00px;width:80px;text-align:center;top:813.05px">5.48</div>
<div class="t tn" style="left:606.80px;width:80px;text-align:center;top:813.05px">-8.8%</div>
<div class="t tn" style="left:654.80px;width:80px;text-align:center;top:813.05px">-2.7%</div>
<div class="hl" style="left:574.70px;width:145.30px;top:825.60px;height:1px;background:#8c8c8c"></div>
<div class="t td" style="left:506.60px;top:828.15px;letter-spacing:0.462px">Steel</div>
<div class="t tn" style="left:559.00px;width:80px;text-align:center;top:828.15px">1,077</div>
<div class="t tn" style="left:606.80px;width:80px;text-align:center;top:828.15px">5.9%</div>
<div class="t tn" style="left:654.80px;width:80px;text-align:center;top:828.15px">12.8%</div>
<div class="hl" style="left:574.70px;width:145.30px;top:840.70px;height:1px;background:#8c8c8c"></div>
<div class="t td" style="left:506.60px;top:843.15px;letter-spacing:1.644px">Corn</div>
<div class="t tn" style="left:559.00px;width:80px;text-align:center;top:843.15px">4.59</div>
<div class="t tn" style="left:606.80px;width:80px;text-align:center;top:843.15px">2.2%</div>
<div class="t tn" style="left:654.80px;width:80px;text-align:center;top:843.15px">4.1%</div>
<div class="hl" style="left:574.70px;width:145.30px;top:855.70px;height:1px;background:#8c8c8c"></div>
<div class="t td" style="left:506.60px;top:858.05px;letter-spacing:0.853px">Soybeans</div>
<div class="t tn" style="left:559.00px;width:80px;text-align:center;top:858.05px">11.61</div>
<div class="t tn" style="left:606.80px;width:80px;text-align:center;top:858.05px">0.8%</div>
<div class="t tn" style="left:654.80px;width:80px;text-align:center;top:858.05px">13.8%</div>
<div class="hl" style="left:504.00px;width:216.00px;top:870.60px;height:1px;background:#7f7f7f"></div>
<div class="t foot" style="left:2.50px;top:872.22px">Data Reflects Most Recently Available As of 3/31/2026</div>
</body></html>
